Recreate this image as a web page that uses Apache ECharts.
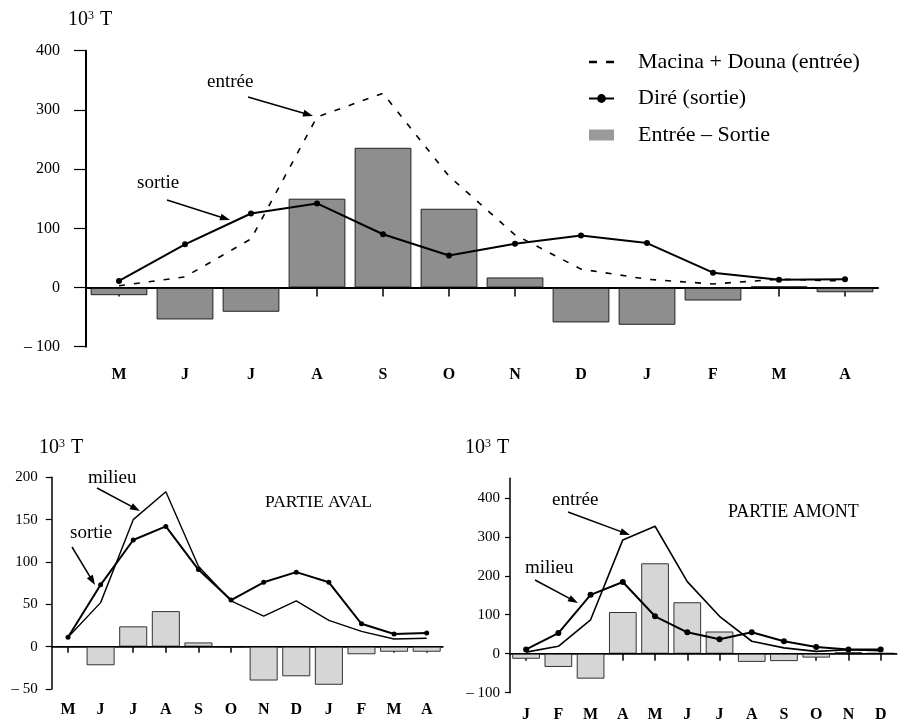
<!DOCTYPE html>
<html>
<head>
<meta charset="utf-8">
<script src="https://cdn.jsdelivr.net/npm/echarts@6/dist/echarts.min.js"></script>
<style>
html,body{margin:0;padding:0;background:#fff;}
#c{width:903px;height:724px;}
</style>
</head>
<body>
<div id="c"></div>
<script>
// ---------- data ----------
var monthsTop = ['M','J','J','A','S','O','N','D','J','F','M','A'];
var entreeTop = [3, 18, 82, 288, 328, 188, 89, 31, 14, 6, 14, 11];
var sortieTop = [11, 73, 125, 142, 90, 54, 74, 88, 75, 25, 13, 14];
var diffTop   = [-13, -54, -41, 150, 236, 133, 17, -59, -63, -22, 2, -8];

var monthsAval = ['M','J','J','A','S','O','N','D','J','F','M','A'];
var milieuAval = [11, 52, 150, 183, 95, 54, 36, 54, 31, 18, 9, 10];
var sortieAval = [11, 73, 126, 142, 91, 55, 76, 88, 76, 27, 15, 16];
var diffAval   = [0, -22, 24, 42, 5, -1, -40, -35, -45, -9, -6, -6];

var monthsAmont = ['J','F','M','A','M','J','J','A','S','O','N','D'];
var entreeAmont = [4, 19, 87, 292, 327, 185, 96, 32, 15, 6, 10, 8];
var milieuAmont = [11, 53, 151, 184, 96, 55, 37, 55, 32, 17, 11, 11];
var diffAmont   = [-13, -34, -64, 107, 232, 132, 57, -21, -19, -10, 4, 2];

var yTicksAmont = [-100, 0, 100, 200, 300, 400];

// ---------- styles ----------
var FONT = '"Liberation Serif", "Times New Roman", serif';
function yFmt(v){ return v < 0 ? '\u2013 ' + Math.abs(v) : String(v); }

function xAxisCfg(idx, data, tickLen, margin, fs, lw){
  return {
    type:'category', gridIndex:idx, data:data, boundaryGap:true,
    axisLine:{show:true, lineStyle:{color:'#000', width:lw}},
    axisTick:{show:true, alignWithLabel:true, length:tickLen, lineStyle:{color:'#000', width:1.5}},
    axisLabel:{interval:0, margin:margin, color:'#000', fontFamily:FONT, fontSize:fs, fontWeight:'bold'},
    splitLine:{show:false}
  };
}
function yAxisCfg(idx, min, max, interval, tickLen, margin, fs, lw, custom){
  var a = {
    type:'value', gridIndex:idx, min:min, max:max, interval:interval,
    axisLine:{show:true, lineStyle:{color:'#000', width:lw}},
    axisTick:{show:true, length:tickLen, lineStyle:{color:'#000', width:1.2}},
    axisLabel:{margin:margin, color:'#000', fontFamily:FONT, fontSize:fs, formatter:yFmt},
    splitLine:{show:false}
  };
  if (custom){ a.axisLabel.customValues = custom; a.axisTick.customValues = custom; }
  return a;
}
function zeroLine(w){
  return {silent:true, symbol:'none', animation:false, label:{show:false},
          lineStyle:{color:'#000', type:'solid', width:w}, data:[{yAxis:0}]};
}

// ---------- annotations ----------
function arrow(x1,y1,x2,y2){
  var dx=x2-x1, dy=y2-y1, L=Math.sqrt(dx*dx+dy*dy), ux=dx/L, uy=dy/L, len=10, w=3.5;
  return {type:'group', silent:true, children:[
    {type:'line', shape:{x1:x1,y1:y1,x2:x2-ux*len*0.6,y2:y2-uy*len*0.6}, style:{stroke:'#000', lineWidth:1.5}},
    {type:'polygon', shape:{points:[[x2,y2],[x2-ux*len-uy*w, y2-uy*len+ux*w],[x2-ux*len+uy*w, y2-uy*len-ux*w]]}, style:{fill:'#000'}}
  ]};
}
function txt(x,y,t,fs){
  return {type:'text', x:x, y:y, silent:true, style:{text:t, fill:'#000', font:fs+'px '+FONT, textVerticalAlign:'middle'}};
}
function unit(x,y){
  return {type:'text', x:x, y:y, silent:true, style:{
    text:'10{s|3} T', fill:'#000', fontFamily:FONT, fontSize:20, verticalAlign:'middle',
    rich:{s:{fontFamily:FONT, fontSize:12, fill:'#000', padding:[0,1,9,0]}}
  }};
}

var chart = echarts.init(document.getElementById('c'), null, {renderer:'canvas'});
chart.setOption({
  animation:false,
  backgroundColor:'#fff',
  textStyle:{fontFamily:FONT},
  grid:[
    {left:86, top:50.7, width:792, height:296, containLabel:false, outerBoundsMode:'none'},
    {left:51.7, top:477.3, width:391.3, height:211.7, containLabel:false, outerBoundsMode:'none'},
    {left:510, top:478.3, width:386.8, height:214.4, containLabel:false, outerBoundsMode:'none'}
  ],
  xAxis:[
    xAxisCfg(0, monthsTop, 9, 20, 16, 2),
    xAxisCfg(1, monthsAval, 6, 13, 16, 1.5),
    xAxisCfg(2, monthsAmont, 7, 14, 16, 1.5)
  ],
  yAxis:[
    yAxisCfg(0, -100, 400, 100, 12, 26, 16, 2),
    yAxisCfg(1, -50, 200, 50, 6, 14, 15, 1.5),
    yAxisCfg(2, -100, 450, 50, 5, 10, 15, 1.5, yTicksAmont)
  ],
  legend:{
    orient:'vertical', left:588, top:51, padding:0, itemWidth:25, itemHeight:11, itemGap:14.5,
    selectedMode:false, symbolKeepAspect:true,
    textStyle:{fontFamily:FONT, fontSize:22, color:'#000', lineHeight:22, padding:[0,0,0,19]},
    data:[
      {name:'Macina + Douna (entrée)', icon:'path://M0,0H7V2H0Z M15,0H22V2H15Z', itemStyle:{color:'#000', borderWidth:0}},
      {name:'Diré (sortie)'},
      {name:'Entrée \u2013 Sortie', icon:'rect', itemStyle:{color:'#9a9a9a', borderWidth:0}}
    ]
  },
  series:[
    {name:'Entrée \u2013 Sortie', type:'bar', xAxisIndex:0, yAxisIndex:0, data:diffTop, barCategoryGap:'14%', z:1,
     itemStyle:{color:'#8e8e8e', borderColor:'#222', borderWidth:1}, markLine:zeroLine(1.5)},
    {name:'Macina + Douna (entrée)', type:'line', xAxisIndex:0, yAxisIndex:0, data:entreeTop, symbol:'none', z:3,
     lineStyle:{color:'#000', width:1.6, type:[6,9]}, itemStyle:{color:'#000'}},
    {name:'Diré (sortie)', type:'line', xAxisIndex:0, yAxisIndex:0, data:sortieTop, symbol:'circle', symbolSize:6, z:4,
     lineStyle:{color:'#000', width:2}, itemStyle:{color:'#000'}},

    {name:'aval diff', type:'bar', xAxisIndex:1, yAxisIndex:1, data:diffAval, barCategoryGap:'14%', z:1,
     itemStyle:{color:'#d6d6d6', borderColor:'#333', borderWidth:1}, markLine:zeroLine(1.2)},
    {name:'aval milieu', type:'line', xAxisIndex:1, yAxisIndex:1, data:milieuAval, symbol:'none', z:3,
     lineStyle:{color:'#000', width:1.4}},
    {name:'aval sortie', type:'line', xAxisIndex:1, yAxisIndex:1, data:sortieAval, symbol:'circle', symbolSize:5, z:4,
     lineStyle:{color:'#000', width:2}, itemStyle:{color:'#000'}},

    {name:'amont diff', type:'bar', xAxisIndex:2, yAxisIndex:2, data:diffAmont, barCategoryGap:'14%', z:1,
     itemStyle:{color:'#d6d6d6', borderColor:'#333', borderWidth:1}, markLine:zeroLine(1.2)},
    {name:'amont entrée', type:'line', xAxisIndex:2, yAxisIndex:2, data:entreeAmont, symbol:'none', z:3,
     lineStyle:{color:'#000', width:1.6}},
    {name:'amont milieu', type:'line', xAxisIndex:2, yAxisIndex:2, data:milieuAmont, symbol:'circle', symbolSize:6, z:4,
     lineStyle:{color:'#000', width:2}, itemStyle:{color:'#000'}}
  ],
  graphic:[
    unit(68, 20), unit(39, 448), unit(465, 448),
    txt(207, 82, 'entrée', 19), arrow(248, 97, 313, 116),
    txt(137, 183, 'sortie', 19), arrow(167, 200, 230, 220),
    txt(88, 478, 'milieu', 19), arrow(97, 488, 140, 511),
    txt(70, 533, 'sortie', 19), arrow(72, 547, 95, 585),
    txt(265, 502, 'PARTIE AVAL', 17.5),
    txt(552, 500, 'entrée', 19), arrow(568, 512, 630, 535),
    txt(525, 568, 'milieu', 19), arrow(535, 580, 578, 603),
    txt(728, 512, 'PARTIE AMONT', 18)
  ]
});
</script>
</body>
</html>
